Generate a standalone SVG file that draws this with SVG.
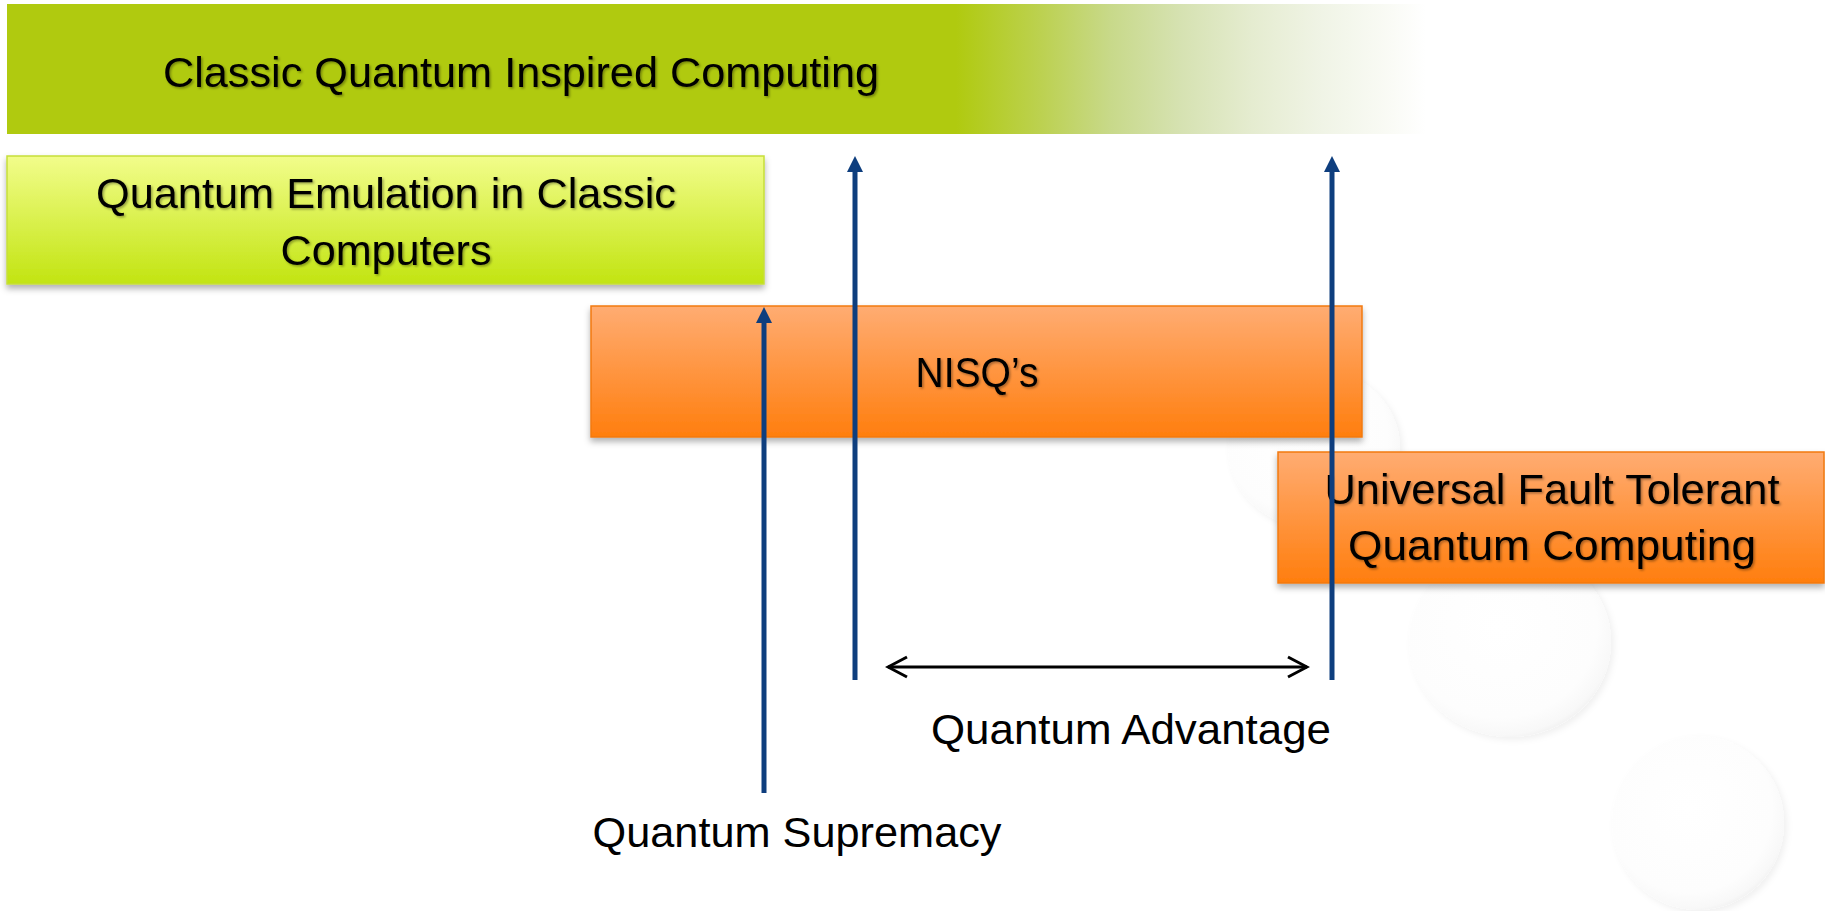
<svg xmlns="http://www.w3.org/2000/svg" width="1825" height="911" viewBox="0 0 1825 911">
  <defs>
    <style>
      .lbl { font-family: "Liberation Sans", Arial, sans-serif; font-size: 42px; fill: #000; }
      .boxtxt { filter: url(#txtShadow); }
      .vline { stroke: #0E3E7E; stroke-width: 5; fill: none; marker-end: url(#blueHead); }
      .hline { stroke: #000; stroke-width: 3; fill: none; marker-start: url(#chevron); marker-end: url(#chevron); }
      .bubble { fill: url(#bubbleFill); filter: url(#bubbleShadow); }
    </style>
    <linearGradient id="topFade" gradientUnits="userSpaceOnUse" x1="956" y1="0" x2="1426" y2="0">
      <stop offset="0" stop-color="#B0CA0F"/>
      <stop offset="0.18" stop-color="#BCD150"/>
      <stop offset="0.33" stop-color="#C8D98A"/>
      <stop offset="0.48" stop-color="#D6E2B2"/>
      <stop offset="0.63" stop-color="#E5ECD0"/>
      <stop offset="0.78" stop-color="#F0F4E6"/>
      <stop offset="0.93" stop-color="#FAFBF6"/>
      <stop offset="1" stop-color="#FFFFFF"/>
    </linearGradient>
    <linearGradient id="greenGrad" x1="0" y1="0" x2="0" y2="1">
      <stop offset="0" stop-color="#F2FD8B"/>
      <stop offset="1" stop-color="#C2E411"/>
    </linearGradient>
    <linearGradient id="orangeGrad" x1="0" y1="0" x2="0" y2="1">
      <stop offset="0" stop-color="#FFAC72"/>
      <stop offset="1" stop-color="#FF7E0E"/>
    </linearGradient>
    <radialGradient id="bubbleFill" cx="0.45" cy="0.42" r="0.6">
      <stop offset="0" stop-color="#FFFFFF"/>
      <stop offset="0.8" stop-color="#FDFDFD"/>
      <stop offset="0.95" stop-color="#F8F8F8"/>
      <stop offset="1" stop-color="#F1F1F1"/>
    </radialGradient>
    <filter id="bubbleShadow" x="-20%" y="-20%" width="140%" height="140%">
      <feDropShadow dx="3" dy="3" stdDeviation="3" flood-color="#000" flood-opacity="0.06"/>
    </filter>
    <filter id="boxShadow" x="-5%" y="-10%" width="110%" height="130%">
      <feDropShadow dx="0" dy="4" stdDeviation="3" flood-color="#000" flood-opacity="0.3"/>
    </filter>
    <filter id="txtShadow" x="-5%" y="-20%" width="110%" height="140%">
      <feDropShadow dx="1.5" dy="1.5" stdDeviation="1" flood-color="#000" flood-opacity="0.35"/>
    </filter>
    <marker id="blueHead" markerUnits="userSpaceOnUse" viewBox="0 0 16 16" markerWidth="16" markerHeight="16" refX="6" refY="8" orient="auto">
      <path d="M0,0 L16,8 L0,16 z" fill="#0E3E7E"/>
    </marker>
    <marker id="chevron" markerUnits="userSpaceOnUse" viewBox="-21 -12 24 24" markerWidth="24" markerHeight="24" refX="0" refY="0" orient="auto-start-reverse">
      <path d="M-19,-10 L0,0 L-19,10" fill="none" stroke="#000" stroke-width="3"/>
    </marker>
  </defs>

  <rect width="1825" height="911" fill="#FFFFFF"/>

  <g id="background-bubbles">
    <ellipse class="bubble" cx="1314" cy="448" rx="86" ry="80"/>
    <ellipse class="bubble" cx="1510" cy="642" rx="101" ry="95"/>
    <ellipse class="bubble" cx="1698" cy="823" rx="86" ry="87"/>
  </g>

  <g id="node-classic-quantum-inspired">
    <rect x="7" y="4" width="1419" height="130" fill="url(#topFade)"/>
    <text class="lbl boxtxt" x="521" y="87" text-anchor="middle" textLength="716" lengthAdjust="spacingAndGlyphs">Classic Quantum Inspired Computing</text>
  </g>

  <g id="node-quantum-emulation">
    <rect x="7" y="156" width="757" height="128" fill="url(#greenGrad)" stroke="#C6DE3A" stroke-width="1.5" filter="url(#boxShadow)"/>
    <text class="lbl boxtxt" x="386" y="208" text-anchor="middle" textLength="580" lengthAdjust="spacingAndGlyphs">Quantum Emulation in Classic</text>
    <text class="lbl boxtxt" x="386" y="265" text-anchor="middle" textLength="211" lengthAdjust="spacingAndGlyphs">Computers</text>
  </g>

  <g id="node-nisq">
    <rect x="591" y="306" width="771" height="131" fill="url(#orangeGrad)" stroke="#F27A10" stroke-width="1.5" filter="url(#boxShadow)"/>
    <text class="lbl boxtxt" x="977" y="387" text-anchor="middle" textLength="123" lengthAdjust="spacingAndGlyphs">NISQ’s</text>
  </g>

  <g id="node-universal-ftqc">
    <rect x="1278" y="452" width="546" height="131" fill="url(#orangeGrad)" stroke="#F27A10" stroke-width="1.5" filter="url(#boxShadow)"/>
    <text class="lbl boxtxt" x="1552" y="504" text-anchor="middle" textLength="455" lengthAdjust="spacingAndGlyphs">Universal Fault Tolerant</text>
    <text class="lbl boxtxt" x="1552" y="560" text-anchor="middle" textLength="408" lengthAdjust="spacingAndGlyphs">Quantum Computing</text>
  </g>

  <g id="connectors">
    <line class="vline" x1="764" y1="793" x2="764" y2="317"/>
    <line class="vline" x1="855" y1="680" x2="855" y2="166"/>
    <line class="vline" x1="1332" y1="680" x2="1332" y2="166"/>
    <line class="hline" x1="888" y1="667" x2="1307" y2="667"/>
  </g>

  <g id="label-quantum-advantage">
    <text class="lbl" x="1131" y="744" text-anchor="middle" textLength="400" lengthAdjust="spacingAndGlyphs">Quantum Advantage</text>
  </g>
  <g id="label-quantum-supremacy">
    <text class="lbl" x="797" y="847" text-anchor="middle" textLength="409" lengthAdjust="spacingAndGlyphs">Quantum Supremacy</text>
  </g>
</svg>
